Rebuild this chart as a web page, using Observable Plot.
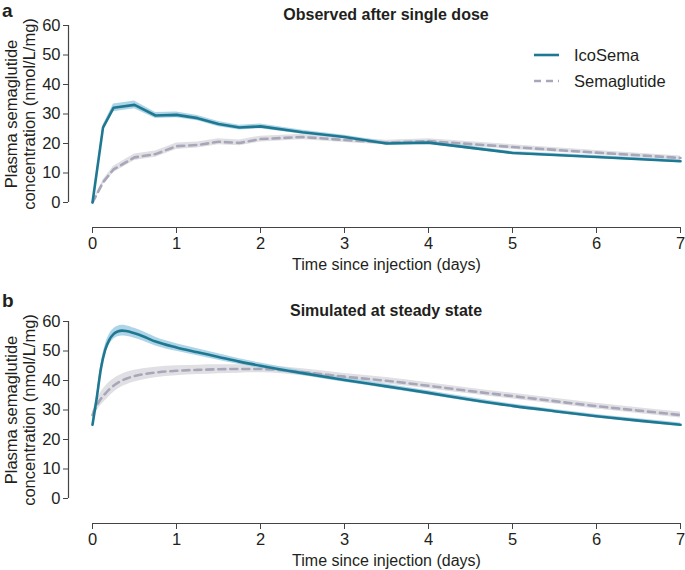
<!DOCTYPE html>
<html>
<head>
<meta charset="utf-8">
<script src="https://cdn.jsdelivr.net/npm/d3@7"></script>
<script src="https://cdn.jsdelivr.net/npm/@observablehq/plot@0.6"></script>
<style>
  html, body { margin: 0; padding: 0; background: #fff; }
  body { width: 685px; font-family: "Liberation Sans", Arial, Helvetica, sans-serif; color: #231f20; }
  .panel { position: relative; width: 685px; }
  .letter { position: absolute; left: 2px; font-weight: bold; font-size: 19px; line-height: normal; }
  .title { position: absolute; left: 92px; width: 588px; text-align: center; font-weight: bold; font-size: 16px; line-height: 1; }
  .legend { position: absolute; left: 534px; top: 42px; font-size: 16.5px; }
  .legend .row { display: flex; align-items: center; height: 26px; }
  .legend svg { margin-right: 15px; }
</style>
</head>
<body>
<div id="root"></div>
<script>
// ---------- Data ----------
const seriesNames = ["IcoSema", "Semaglutide"];
const xTicks = [0, 1, 2, 3, 4, 5, 6, 7];
const yTicks = [0, 10, 20, 30, 40, 50, 60];
const xLabel = "Time since injection (days)";
const yLabel = "Plasma semaglutide\nconcentration (nmol/L/mg)";
const panelTitles = ["Observed after single dose", "Simulated at steady state"];
const panelLetters = ["a", "b"];

// Panel a: observed after single dose (days)
const obsTime = [0, 0.125, 0.25, 0.5, 0.75, 1, 1.25, 1.5, 1.75, 2, 2.5, 3, 3.5, 4, 5, 6, 7];
const obsIcoSema = [0, 25.4, 32.1, 33.1, 29.5, 29.7, 28.6, 26.6, 25.4, 25.8, 23.8, 22.2, 20.0, 20.3, 16.8, 15.4, 14.0];
const obsIcoSemaBand = [0.2, 0.8, 1.3, 1.3, 1.0, 1.0, 0.9, 0.9, 0.8, 0.8, 0.7, 0.6, 0.6, 0.6, 0.5, 0.5, 0.5];
const obsSema = [0, 6.8, 11.2, 15.3, 16.4, 19.1, 19.5, 20.6, 20.2, 21.5, 22.2, 21.2, 20.3, 20.8, 18.8, 16.9, 15.1];
const obsSemaBand = [0.2, 0.8, 1.1, 1.1, 1.1, 1.1, 1.0, 1.0, 1.0, 1.0, 0.9, 0.9, 0.8, 0.8, 0.8, 0.7, 0.7];

// Panel b: simulated at steady state (days)
const simTime = [0, 0.05, 0.1, 0.15, 0.2, 0.25, 0.3, 0.35, 0.4, 0.5, 0.6, 0.75, 1, 1.25, 1.5, 1.75, 2, 2.5, 3, 3.5, 4, 4.5, 5, 5.5, 6, 6.5, 7];
const simIcoSema = [25.0, 34.0, 44.0, 50.3, 53.8, 55.7, 56.6, 56.9, 56.8, 56.0, 55.0, 53.2, 51.2, 49.6, 48.0, 46.4, 45.0, 42.5, 40.2, 38.0, 35.8, 33.5, 31.4, 29.6, 27.9, 26.4, 25.0];
const simIcoSemaBand = [0.5, 1.0, 1.4, 1.6, 1.8, 1.8, 1.8, 1.8, 1.8, 1.7, 1.6, 1.5, 1.3, 1.2, 1.1, 1.0, 0.9, 0.8, 0.8, 0.7, 0.7, 0.7, 0.6, 0.6, 0.6, 0.6, 0.6];
const simSema = [28.3, 31.5, 33.8, 35.5, 37.0, 38.2, 39.2, 40.0, 40.6, 41.5, 42.1, 42.7, 43.3, 43.6, 43.8, 43.9, 43.9, 42.8, 41.3, 39.9, 38.2, 36.4, 34.7, 33.0, 31.3, 29.8, 28.3];
const simSemaBand = [1.0, 1.8, 2.2, 2.4, 2.4, 2.3, 2.2, 2.1, 2.1, 2.0, 1.9, 1.8, 1.7, 1.6, 1.5, 1.4, 1.3, 1.2, 1.1, 1.1, 1.0, 1.0, 1.0, 1.0, 1.0, 1.0, 1.0];

// ---------- Styles ----------
const icoColor = "#1f7891";
const icoBandColor = "#9fcde3";
const semaColor = "#a8a7ba";
const semaBandColor = "#e0e0e4";
const dash = "7,5";
const axisColor = "#444";
const fontFamily = "'Liberation Sans', Arial, Helvetica, sans-serif";

function makePanel(i, time, ico, icoBand, sema, semaBand, height, curve, showLegend, letterTop) {
  const rows = time.map((t, k) => ({
    t,
    ico: ico[k], icoLo: ico[k] - icoBand[k], icoHi: ico[k] + icoBand[k],
    sema: sema[k], semaLo: sema[k] - semaBand[k], semaHi: sema[k] + semaBand[k]
  }));
  const xMin = xTicks[0], xMax = xTicks[xTicks.length - 1];
  const yMin = yTicks[0], yMax = yTicks[yTicks.length - 1];
  const plot = Plot.plot({
    width: 685,
    height,
    marginLeft: 92,
    marginRight: 5,
    marginTop: 25,
    marginBottom: height - 202,
    style: { fontFamily, fontSize: "16px", color: "#231f20", background: "transparent", overflow: "visible" },
    x: { domain: [xMin, xMax] },
    y: { domain: [yMin, yMax] },
    marks: [
      Plot.areaY(rows, { x: "t", y1: "semaLo", y2: "semaHi", fill: semaBandColor, curve }),
      Plot.areaY(rows, { x: "t", y1: "icoLo", y2: "icoHi", fill: icoBandColor, fillOpacity: 0.85, curve }),
      Plot.lineY(rows, { x: "t", y: "sema", stroke: semaColor, strokeWidth: 2.6, strokeDasharray: dash, curve }),
      Plot.lineY(rows, { x: "t", y: "ico", stroke: icoColor, strokeWidth: 2.6, curve }),
      // detached axis lines
      Plot.ruleY([yMin], { x1: xMin, x2: xMax, dy: 25, stroke: axisColor, strokeWidth: 1.2 }),
      Plot.ruleX([xMin], { y1: yMin, y2: yMax, dx: -24, stroke: axisColor, strokeWidth: 1.2 }),
      Plot.axisX({ ticks: xTicks, tickFormat: d => String(d), tickSize: 6, tickPadding: 4, dy: 25, label: null, stroke: axisColor, fontSize: 16.5 }),
      Plot.axisY({ ticks: yTicks, tickFormat: d => String(d), tickSize: 5, tickPadding: 3, dx: -24, label: null, stroke: axisColor, fontSize: 16.5 }),
      Plot.text([xLabel], { frameAnchor: "bottom", dy: 67, fontSize: 16, fill: "#231f20" }),
      Plot.text([yLabel], { frameAnchor: "left", textAnchor: "middle", rotate: -90, dx: -72, fontSize: 16.5, lineHeight: 1.1, fill: "#231f20" })
    ]
  });
  const div = document.createElement("div");
  div.className = "panel";
  div.style.height = height + "px";
  div.appendChild(plot);
  const letter = document.createElement("div");
  letter.className = "letter";
  letter.style.top = letterTop + "px";
  letter.textContent = panelLetters[i];
  div.appendChild(letter);
  const title = document.createElement("div");
  title.className = "title";
  title.style.top = "7px";
  title.textContent = panelTitles[i];
  div.appendChild(title);
  if (showLegend) {
    const lg = document.createElement("div");
    lg.className = "legend";
    const specs = [
      { name: seriesNames[0], color: icoColor, dash: null },
      { name: seriesNames[1], color: semaColor, dash }
    ];
    for (const s of specs) {
      const row = document.createElement("div");
      row.className = "row";
      row.innerHTML = `<svg width="25" height="6"><line x1="0" x2="25" y1="3" y2="3" stroke="${s.color}" stroke-width="2.6" ${s.dash ? `stroke-dasharray="${s.dash}"` : ""}/></svg><span>${s.name}</span>`;
      lg.appendChild(row);
    }
    div.appendChild(lg);
  }
  return div;
}

const root = document.getElementById("root");
root.appendChild(makePanel(0, obsTime, obsIcoSema, obsIcoSemaBand, obsSema, obsSemaBand, 296, "linear", true, 0));
root.appendChild(makePanel(1, simTime, simIcoSema, simIcoSemaBand, simSema, simSemaBand, 274, "monotone-x", false, -6));
</script>
</body>
</html>
